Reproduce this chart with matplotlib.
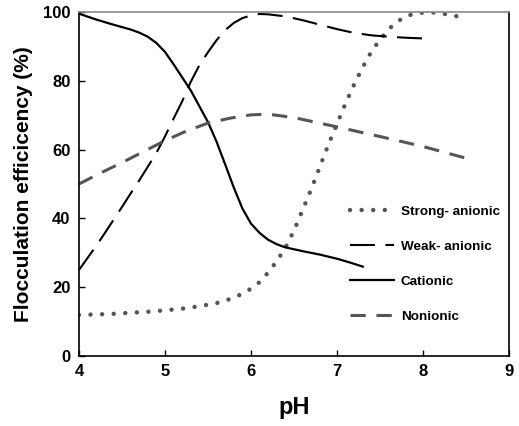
import matplotlib.pyplot as plt

plt.rcParams['font.family'] = ['Liberation Sans', 'DejaVu Sans']
plt.rcParams['font.weight'] = 'bold'

# Strong- anionic
ph_sa = [4.0, 4.2, 4.4, 4.6, 4.8, 5.0, 5.2, 5.4, 5.6, 5.7, 5.8, 5.9, 6.0, 6.1, 6.2, 6.3, 6.4, 6.5,
         6.6, 6.7, 6.8, 6.9, 7.0, 7.1, 7.2, 7.3, 7.4, 7.5, 7.6, 7.7, 7.8, 7.9, 8.0, 8.1, 8.2, 8.3, 8.4, 8.5]
eff_sa = [12.0, 12.1, 12.3, 12.6, 12.9, 13.3, 13.8, 14.5, 15.4, 16.1, 17.0, 18.1, 19.6, 21.5, 24.3, 27.6, 31.5, 36.5,
          42.5, 48.5, 55.0, 61.5, 67.5, 73.5, 79.0, 84.0, 88.5, 92.0, 95.0, 97.2, 98.7, 99.5, 99.8, 99.9, 99.6, 99.2, 98.7, 98.3]

# Weak- anionic
ph_wa = [4.0, 4.1, 4.2, 4.3, 4.4, 4.5, 4.6, 4.7, 4.8, 4.9, 5.0, 5.1, 5.2, 5.3, 5.4, 5.5, 5.6, 5.7,
         5.8, 5.9, 6.0, 6.1, 6.2, 6.4, 6.6, 6.8, 7.0, 7.2, 7.4, 7.6, 7.8, 8.0]
eff_wa = [25.0, 28.5, 32.0, 35.7, 39.5, 43.3, 47.2, 51.0, 55.0, 59.0, 63.8, 69.0, 74.0, 79.7, 84.5, 88.3, 91.8, 94.7,
          96.8, 98.2, 99.0, 99.4, 99.3, 98.7, 97.6, 96.3, 95.0, 93.9, 93.2, 92.8, 92.5, 92.3]

# Cationic
ph_c = [4.0, 4.2, 4.4, 4.6, 4.7, 4.8, 4.9, 5.0, 5.1, 5.2, 5.3, 5.4, 5.5, 5.6, 5.7, 5.8, 5.9, 6.0,
        6.1, 6.2, 6.3, 6.4, 6.6, 6.8, 7.0, 7.15, 7.3]
eff_c = [99.5, 97.8, 96.3, 94.9, 94.0, 92.8, 91.0, 88.4, 84.8, 81.0, 77.2, 72.6, 68.0, 62.3, 55.7, 49.0, 42.9, 38.5,
         35.8, 33.8, 32.5, 31.6, 30.5, 29.5, 28.3, 27.2, 26.0]

# Nonionic
ph_n = [4.0, 4.25, 4.5, 4.75, 5.0, 5.25, 5.5, 5.75, 6.0, 6.2, 6.5, 7.0, 7.5, 8.0, 8.5]
eff_n = [50.0, 53.2, 56.2, 59.4, 62.6, 65.4, 67.7, 69.1, 70.1, 70.3, 69.3, 66.6, 63.8, 60.9, 57.5]

xticks = [4, 5, 6, 7, 8, 9]
yticks = [0, 20, 40, 60, 80, 100]

fig = plt.figure(figsize=(5.19, 4.26), dpi=100)
ax = fig.add_axes([0.152, 0.164, 0.829, 0.808])

ax.plot(ph_sa, eff_sa, color='#555555', linewidth=3.2, linestyle=(0, (0.01, 2.6)),
        dash_capstyle='round', label='Strong- anionic')
ax.plot(ph_wa, eff_wa, color='black', linewidth=1.5, linestyle=(0, (12, 5)), label='Weak- anionic')
ax.plot(ph_c, eff_c, color='black', linewidth=1.6, label='Cationic')
ax.plot(ph_n, eff_n, color='#555555', linewidth=2.2, linestyle=(0, (5, 3.5)), label='Nonionic')

ax.set_xlim(4, 9)
ax.set_ylim(0, 100)
ax.set_xticks(xticks)
ax.set_yticks(yticks)
ax.tick_params(direction='in', length=4, width=1, labelsize=12, pad=6)
for lab in ax.get_xticklabels() + ax.get_yticklabels():
    lab.set_fontweight('bold')

ax.spines['top'].set_color('#888888')
for s in ax.spines.values():
    s.set_linewidth(1.2)

ax.set_xlabel('pH', fontsize=17, fontweight='bold', labelpad=12)
ax.set_ylabel('Flocculation efficicency (%)', fontsize=15, fontweight='bold', labelpad=7)

ax.legend(loc='center left', bbox_to_anchor=(0.603, 0.267), frameon=False,
          handlelength=3.2, labelspacing=1.67, handletextpad=0.55,
          prop={'weight': 'bold', 'size': 9.7})

fig.savefig('out.png', dpi=100)
